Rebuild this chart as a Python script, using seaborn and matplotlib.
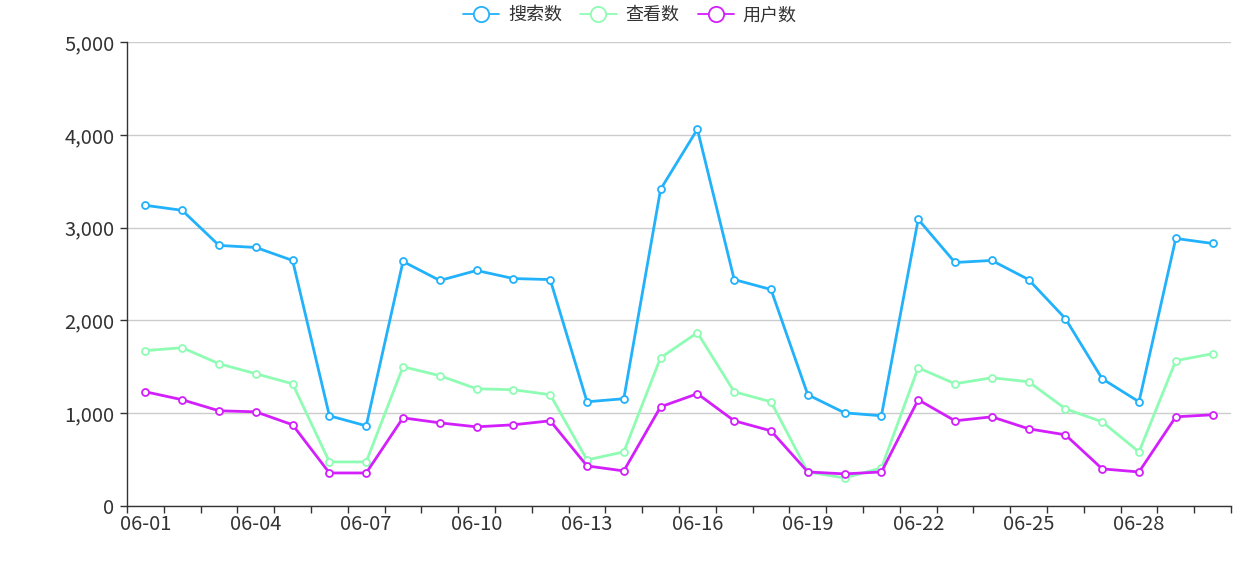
import matplotlib
matplotlib.use('Agg')
import matplotlib.pyplot as plt
from matplotlib.lines import Line2D
from matplotlib.ticker import FuncFormatter, FixedLocator
import numpy as np
import pandas as pd
import seaborn as sns

# data
dates = [f'06-{d:02d}' for d in range(1, 31)]
search_counts = [3240, 3186, 2808, 2786, 2646, 972, 864, 2635, 2430, 2538,
                 2451, 2440, 1123, 1156, 3413, 4060, 2440, 2333, 1199, 1004,
                 972, 3089, 2624, 2646, 2440, 2019, 1371, 1123, 2883, 2829]
view_counts = [1674, 1706, 1533, 1425, 1317, 475, 475, 1501, 1404, 1263,
               1253, 1199, 497, 583, 1598, 1868, 1231, 1123, 367, 302,
               410, 1490, 1317, 1382, 1339, 1048, 907, 583, 1566, 1641]
user_counts = [1231, 1145, 1026, 1015, 875, 356, 356, 950, 896, 853,
               875, 918, 432, 378, 1069, 1210, 918, 810, 367, 346,
               367, 1145, 918, 961, 832, 767, 400, 367, 961, 983]
series_names = ['搜索数', '查看数', '用户数']
series_colors = ['#22b1fb', '#8ffcb4', '#d21ffc']

df = pd.DataFrame({
    'idx': np.arange(len(dates)),
    '搜索数': search_counts,
    '查看数': view_counts,
    '用户数': user_counts,
})

sns.set_theme(style='white')
plt.rcParams['font.family'] = ['Noto Sans CJK SC', 'DejaVu Sans']

fig = plt.figure(figsize=(12.6, 5.61), dpi=100)
ax = fig.add_axes([127 / 1260, 1 - 506 / 561, (1231 - 127) / 1260, (506 - 42) / 561])

for name, color in zip(series_names, series_colors):
    sns.lineplot(data=df, x='idx', y=name, ax=ax, color=color, lw=2,
                 marker='o', markersize=5, markerfacecolor='white',
                 markeredgecolor=color, markeredgewidth=1.3, zorder=3)

ax.set_xlim(-0.5, len(dates) - 0.5)
ax.set_ylim(0, 5000)
ax.set_xlabel('')
ax.set_ylabel('')

# y axis
ax.set_yticks(np.arange(0, 5001, 1000))
ax.yaxis.set_major_formatter(FuncFormatter(lambda v, p: f'{int(v):,}'))
ax.grid(axis='y', color='#cccccc', lw=1)
ax.grid(axis='x', visible=False)

# x axis: labels every 3rd day, ticks at category boundaries
ax.set_xticks(np.arange(0, len(dates), 3))
ax.set_xticklabels(dates[::3])
ax.xaxis.set_minor_locator(FixedLocator(np.arange(-0.5, len(dates), 1)))

ax.tick_params(axis='x', which='major', length=0, pad=6, labelsize=14.5, labelcolor='#333333')
ax.tick_params(axis='x', which='minor', length=5, width=1, color='#333333', direction='out', bottom=True)
ax.tick_params(axis='y', which='major', length=5, width=1, color='#333333', pad=4,
               labelsize=14.5, labelcolor='#333333', left=True)

for side in ['top', 'right']:
    ax.spines[side].set_visible(False)
for side in ['left', 'bottom']:
    ax.spines[side].set_color('#333333')
    ax.spines[side].set_linewidth(1)

handles = [Line2D([0], [0], color=c, lw=1.3, marker='o', markersize=11,
                  markerfacecolor='white', markeredgecolor=c, markeredgewidth=1.3)
           for c in series_colors]
fig.legend(handles, series_names, loc='center', bbox_to_anchor=(0.5, 0.973), ncol=3,
           frameon=False, fontsize=13, handlelength=2.0, columnspacing=1.0,
           handletextpad=0.5, labelcolor='#333333')

fig.savefig('out.png', dpi=100)
